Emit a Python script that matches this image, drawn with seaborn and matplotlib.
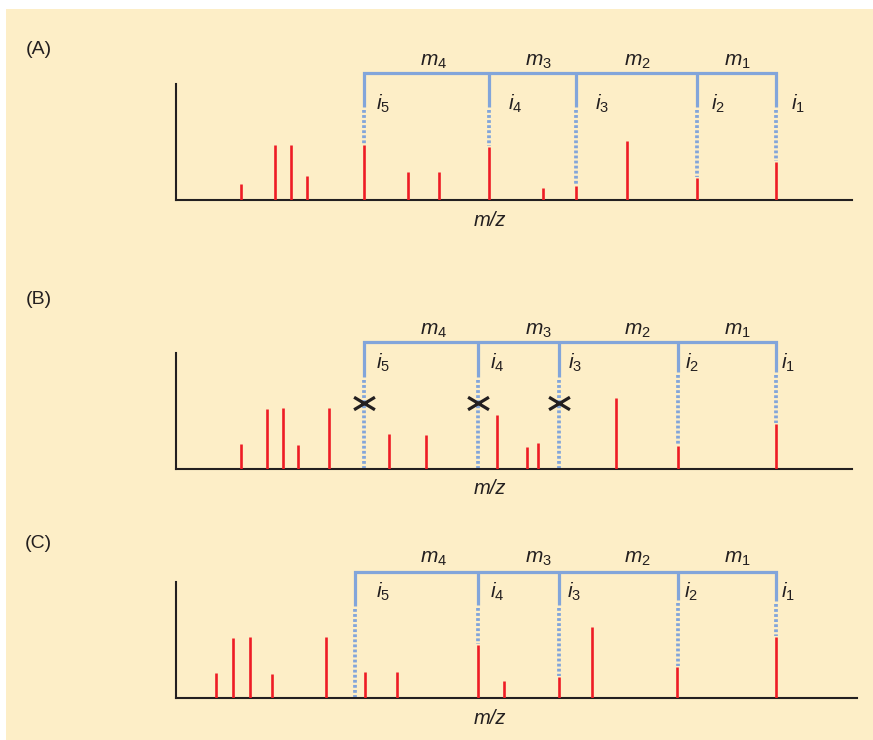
import numpy as np
import pandas as pd
import matplotlib
matplotlib.use("Agg")
import matplotlib.pyplot as plt
import seaborn as sns
from matplotlib.path import Path
from matplotlib.patches import Rectangle

# --- dati (m/z in unita' arbitrarie, intensita' relative) ---
panel_names = ['(A)', '(B)', '(C)']

peaks_a_mz = [65, 99, 115, 131, 188, 232, 263, 313, 367, 400, 451, 521, 600]
peaks_a_int = [16, 55, 55, 24, 55, 28, 28, 53, 12, 14, 59, 22, 38]
cuts_a = [188, 313, 400, 521, 600]

peaks_b_mz = [65, 91, 107, 122, 153, 213, 250, 321, 351, 362, 440, 502, 600]
peaks_b_int = [25, 60, 61, 24, 61, 35, 34, 54, 22, 26, 71, 23, 45]
cuts_b = [188, 302, 383, 502, 600]
blocked_b = [188, 302, 383]

peaks_c_mz = [40, 57, 74, 96, 150, 189, 221, 302, 328, 383, 416, 501, 600]
peaks_c_int = [25, 60, 61, 24, 61, 26, 26, 53, 17, 21, 71, 31, 61]
cuts_c = [179, 302, 383, 502, 600]

mass_labels = ['$m_4$', '$m_3$', '$m_2$', '$m_1$']
ion_labels = ['$i_5$', '$i_4$', '$i_3$', '$i_2$', '$i_1$']

# --- layout (pixel della figura 873x740) ---
W, H = 873, 740
baselines = [200, 469, 698]
bracket_y = [127, 127, 126]
solid_end = [[93, 93, 93, 93, 93], [92, 92, 92, 97, 97], [92, 93, 93, 98, 97]]
ion_y = [96, 106, 106]
ion_x = [[207, 339, 426, 542, 622], [207, 321, 399, 516, 612], [207, 321, 398, 515, 612]]
mass_x = [258, 362, 461, 561]
axis_end = [676, 676, 681]
panel_xy = [(39, 50), (39, 299), (38, 543)]
block_y = 66

RED = '#EE1C25'
BLUE = '#82A5DA'
INK = '#231F20'
CREAM = '#FDEEC7'

sns.set_theme(style="white")
plt.rcParams['font.family'] = ['Liberation Sans', 'DejaVu Sans']
plt.rcParams['mathtext.fontset'] = 'custom'
plt.rcParams['mathtext.it'] = 'Liberation Sans:italic'
plt.rcParams['mathtext.rm'] = 'Liberation Sans'

fig = plt.figure(figsize=(W / 100, H / 100), dpi=100)
fig.patch.set_facecolor('white')
fig.add_artist(Rectangle((6 / W, 0), 1 - 6 / W, 1 - 9 / H, transform=fig.transFigure,
                         facecolor=CREAM, edgecolor='none', zorder=0))

xmark = Path([(-1, -0.6), (1, 0.6), (-1, 0.6), (1, -0.6)],
             [Path.MOVETO, Path.LINETO, Path.MOVETO, Path.LINETO])

panels = [
    (peaks_a_mz, peaks_a_int, cuts_a, []),
    (peaks_b_mz, peaks_b_int, cuts_b, blocked_b),
    (peaks_c_mz, peaks_c_int, cuts_c, []),
]

for k, (mz, inten, cuts, blocked) in enumerate(panels):
    b = baselines[k]
    ax = fig.add_axes([176 / W, (H - b) / H, 690 / W, 160 / H])
    ax.set_facecolor('none')
    ax.set_xlim(0, 690)
    ax.set_ylim(0, 160)
    ax.set_xticks([])
    ax.set_yticks([])
    sns.despine(ax=ax, top=True, right=True)
    for s in ['left', 'bottom']:
        ax.spines[s].set_color(INK)
        ax.spines[s].set_linewidth(1.5)
    ax.spines['left'].set_bounds(0, 116)
    ax.spines['bottom'].set_bounds(0, axis_end[k])

    df = pd.DataFrame({'mz': mz, 'intensity': inten})
    ax.vlines(df['mz'], 0, df['intensity'], color=RED, lw=1.9, zorder=3)

    # frammentazione: staffa in alto
    top = bracket_y[k]
    ends = solid_end[k]
    ax.plot([cuts[0], cuts[0], cuts[-1], cuts[-1]], [ends[0], top, top, ends[-1]],
            color=BLUE, lw=2.3, solid_joinstyle='miter', solid_capstyle='butt', zorder=2)
    for j in range(1, len(cuts) - 1):
        ax.plot([cuts[j], cuts[j]], [top, ends[j]], color=BLUE, lw=2.3,
                solid_capstyle='butt', zorder=2)

    # linee tratteggiate fino al picco (o alla base se manca)
    for j, c in enumerate(cuts):
        near = df[np.abs(df['mz'] - c) <= 2]
        low = near['intensity'].max() + 1 if len(near) else 0
        ax.plot([c, c], [ends[j] - 3, low], color=BLUE, lw=2.7,
                linestyle=(0, (0.75, 0.6)), dash_capstyle='butt', zorder=2)

    if blocked:
        ax.plot(blocked, [block_y] * len(blocked), linestyle='none', marker=xmark,
                ms=15, mfc='none', mec=INK, mew=2.3, zorder=5)

    for lab, x in zip(mass_labels, mass_x):
        ax.text(x, 139, lab, ha='center', va='center', fontsize=15, color=INK)
    for lab, x in zip(ion_labels, ion_x[k]):
        ax.text(x, ion_y[k], lab, ha='center', va='center', fontsize=15, color=INK)
    ax.text(314, -20, 'm/z', ha='center', va='center', fontsize=14.5,
            style='italic', color=INK)

    px, py = panel_xy[k]
    fig.text(px / W, 1 - py / H, panel_names[k], ha='center', va='center',
             fontsize=14, color=INK)

fig.savefig('out.png', dpi=100)
